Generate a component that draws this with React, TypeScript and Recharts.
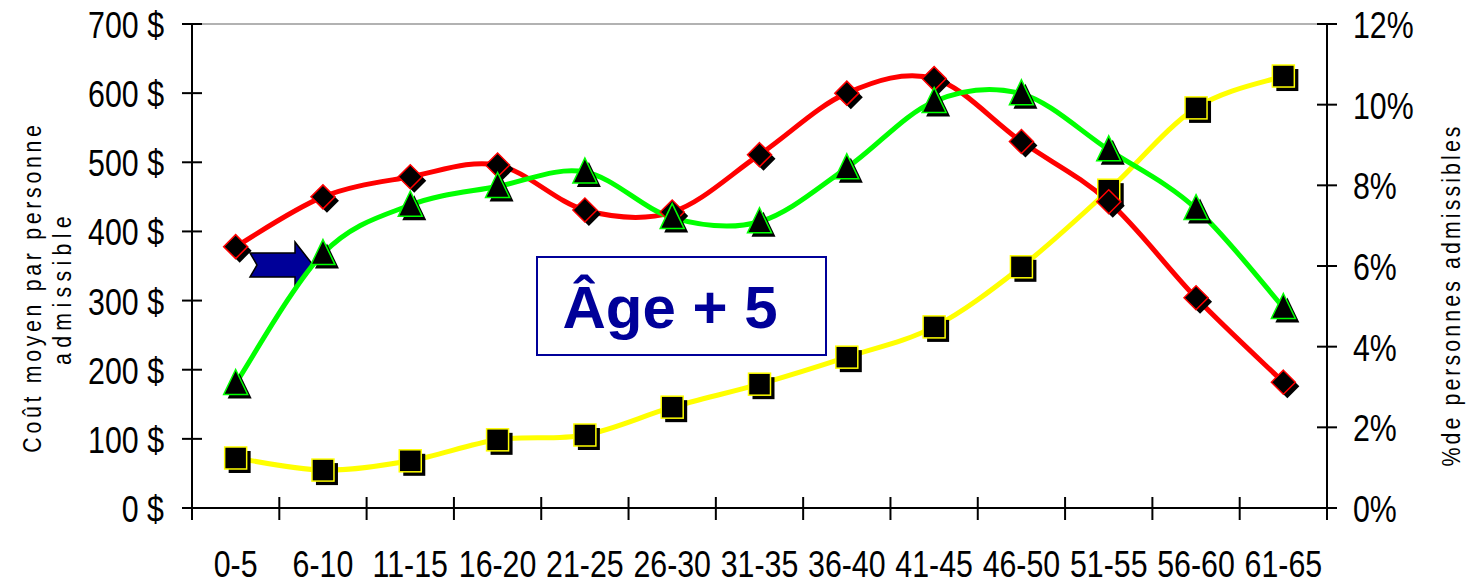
import React from 'react';
import { ComposedChart, Line, XAxis, YAxis, ReferenceLine } from 'recharts';

const ageGroups = ['0-5', '6-10', '11-15', '16-20', '21-25', '26-30', '31-35', '36-40', '41-45', '46-50', '51-55', '56-60', '61-65'];
const coutActuel = [378, 450, 479, 496, 431, 428, 511, 600, 621, 530, 443, 304, 182];
const coutAgePlus5 = [180, 368, 438, 465, 486, 420, 414, 492, 588, 599, 518, 433, 290];
const pctAdmissibles = [1.24, 0.94, 1.17, 1.69, 1.81, 2.5, 3.07, 3.74, 4.49, 5.98, 7.88, 9.92, 10.71];
const coutTicks = [0, 100, 200, 300, 400, 500, 600, 700];
const pctTicks = [0, 2, 4, 6, 8, 10, 12];

const W = 1483;
const H = 584;
const PLOT_LEFT = 192;
const PLOT_RIGHT = 1327;
const bandWidth = (PLOT_RIGHT - PLOT_LEFT) / ageGroups.length;

// police étroite : Liberation Sans compressée horizontalement
const narrowFont = "'Liberation Sans', Arial, sans-serif";
const NARROW = 0.82;

// lissage à la Excel (Catmull-Rom)
const smoothCurve = (context: any) => {
  let pts: number[][] = [];
  return {
    areaStart() {},
    areaEnd() {},
    lineStart() { pts = []; },
    point(x: number, y: number) { pts.push([+x, +y]); },
    lineEnd() {
      if (!pts.length) return;
      context.moveTo(pts[0][0], pts[0][1]);
      const k = 1 / 6;
      for (let i = 0; i < pts.length - 1; i++) {
        const p0 = pts[Math.max(i - 1, 0)];
        const p1 = pts[i];
        const p2 = pts[i + 1];
        const p3 = pts[Math.min(i + 2, pts.length - 1)];
        context.bezierCurveTo(
          p1[0] + (p2[0] - p0[0]) * k, p1[1] + (p2[1] - p0[1]) * k,
          p2[0] - (p3[0] - p1[0]) * k, p2[1] - (p3[1] - p1[1]) * k,
          p2[0], p2[1]
        );
      }
    },
  };
};

const data = ageGroups.map((age, i) => ({
  age,
  actuel: coutActuel[i],
  plus5: coutAgePlus5[i],
  pct: pctAdmissibles[i],
}));

const diamondPts = (x: number, y: number, r: number) => `${x},${y - r} ${x + r},${y} ${x},${y + r} ${x - r},${y}`;
const trianglePts = (x: number, y: number) => `${x},${y - 14} ${x + 12},${y + 11} ${x - 12},${y + 11}`;

const DiamondDot = ({ cx, cy }: any) => {
  if (cx == null || cy == null) return null;
  return (
    <g>
      <polygon points={diamondPts(cx + 4, cy + 4, 12)} fill="#000" />
      <polygon points={diamondPts(cx, cy, 12)} fill="#000" stroke="#ff0000" strokeWidth={1.5} />
    </g>
  );
};

const TriangleDot = ({ cx, cy }: any) => {
  if (cx == null || cy == null) return null;
  return (
    <g>
      <polygon points={trianglePts(cx + 4, cy + 4)} fill="#000" />
      <polygon points={trianglePts(cx, cy)} fill="#000" stroke="#00ff00" strokeWidth={1.5} />
    </g>
  );
};

const SquareDot = ({ cx, cy }: any) => {
  if (cx == null || cy == null) return null;
  return (
    <g>
      <rect x={cx - 11 + 4} y={cy - 11 + 4} width={22} height={22} fill="#000" />
      <rect x={cx - 11} y={cy - 11} width={22} height={22} fill="#000" stroke="#ffff00" strokeWidth={1.5} />
    </g>
  );
};

const NarrowText = ({ x, y, anchor, size, rotate, spacing, children }: any) => (
  <text
    transform={`translate(${x},${y})${rotate ? ` rotate(${rotate})` : ''} scale(${NARROW},1)`}
    textAnchor={anchor}
    fontFamily={narrowFont}
    fontSize={size}
    letterSpacing={spacing || 0}
    fill="#000"
  >
    {children}
  </text>
);

const XTick = ({ x, y, payload, index }: any) => (
  <g>
    <line x1={x - bandWidth / 2} x2={x - bandWidth / 2} y1={y - 11} y2={y + 12} stroke="#000" strokeWidth={2} />
    {index === ageGroups.length - 1 && (
      <line x1={x + bandWidth / 2} x2={x + bandWidth / 2} y1={y - 11} y2={y + 12} stroke="#000" strokeWidth={2} />
    )}
    <NarrowText x={x} y={y + 69} anchor="middle" size={37}>{payload.value}</NarrowText>
  </g>
);

const LeftTick = ({ x, y, payload }: any) => (
  <g>
    <line x1={x - 10} x2={x + 10} y1={y} y2={y} stroke="#000" strokeWidth={2} />
    <NarrowText x={x - 28} y={y + 14} anchor="end" size={37}>{`${payload.value} $`}</NarrowText>
  </g>
);

const RightTick = ({ x, y, payload }: any) => (
  <g>
    <line x1={x - 10} x2={x + 10} y1={y} y2={y} stroke="#000" strokeWidth={2} />
    <NarrowText x={x + 26} y={y + 14} anchor="start" size={37}>{`${payload.value}%`}</NarrowText>
  </g>
);

export default function App() {
  return (
    <div style={{ position: 'absolute', left: 0, top: 0, width: W, height: H, background: '#fff' }}>
      <svg width={W} height={H} style={{ position: 'absolute', left: 0, top: 0 }}>
        <polygon
          points="250,253 295,253 295,242 313,265 295,288 295,277 250,277 257,265"
          fill="#000099"
          stroke="#000"
          strokeWidth={1.5}
        />
      </svg>
      <div style={{ position: 'absolute', left: 0, top: 0 }}>
        <ComposedChart width={W} height={H} data={data} margin={{ top: 24, right: 0, bottom: 0, left: 0 }}>
          <XAxis
            dataKey="age"
            scale="band"
            height={76}
            axisLine={{ stroke: '#000', strokeWidth: 2 }}
            tickLine={false}
            tickSize={0}
            tickMargin={0}
            interval={0}
            tick={<XTick />}
          />
          <YAxis
            yAxisId="cout"
            width={192}
            domain={[0, 700]}
            ticks={coutTicks}
            interval={0}
            axisLine={{ stroke: '#000', strokeWidth: 2 }}
            tickLine={false}
            tickSize={0}
            tickMargin={0}
            tick={<LeftTick />}
          />
          <YAxis
            yAxisId="pct"
            orientation="right"
            width={156}
            domain={[0, 12]}
            ticks={pctTicks}
            interval={0}
            axisLine={{ stroke: '#000', strokeWidth: 2 }}
            tickLine={false}
            tickSize={0}
            tickMargin={0}
            tick={<RightTick />}
          />
          <ReferenceLine yAxisId="cout" y={700} stroke="#999" strokeWidth={1.5} />
          <Line
            yAxisId="pct"
            dataKey="pct"
            type={smoothCurve as any}
            stroke="#ffff00"
            strokeWidth={5}
            dot={(p: any) => <SquareDot key={`s${p.index}`} {...p} />}
            activeDot={false}
            isAnimationActive={false}
          />
          <Line
            yAxisId="cout"
            dataKey="actuel"
            type={smoothCurve as any}
            stroke="#ff0000"
            strokeWidth={5}
            dot={(p: any) => <DiamondDot key={`d${p.index}`} {...p} />}
            activeDot={false}
            isAnimationActive={false}
          />
          <Line
            yAxisId="cout"
            dataKey="plus5"
            type={smoothCurve as any}
            stroke="#00ff00"
            strokeWidth={5}
            dot={(p: any) => <TriangleDot key={`t${p.index}`} {...p} />}
            activeDot={false}
            isAnimationActive={false}
          />
        </ComposedChart>
      </div>
      <svg width={W} height={H} style={{ position: 'absolute', left: 0, top: 0, pointerEvents: 'none' }}>
        <NarrowText x={41} y={287} rotate={-90} anchor="middle" size={26} spacing={4.5}>
          Coût moyen par personne
        </NarrowText>
        <NarrowText x={71} y={288} rotate={-90} anchor="middle" size={26} spacing={6.5}>
          admissible
        </NarrowText>
        <NarrowText x={1460} y={295} rotate={-90} anchor="middle" size={26} spacing={3.8}>
          %de personnes admissibles
        </NarrowText>
        <rect x={537} y={257} width={289} height={98} fill="#fff" stroke="#000099" strokeWidth={2} />
        <text x={670} y={328} textAnchor="middle" fontFamily="'Liberation Sans', Arial, sans-serif" fontWeight="bold" fontSize={60} fill="#000099">
          Âge + 5
        </text>
      </svg>
    </div>
  );
}
